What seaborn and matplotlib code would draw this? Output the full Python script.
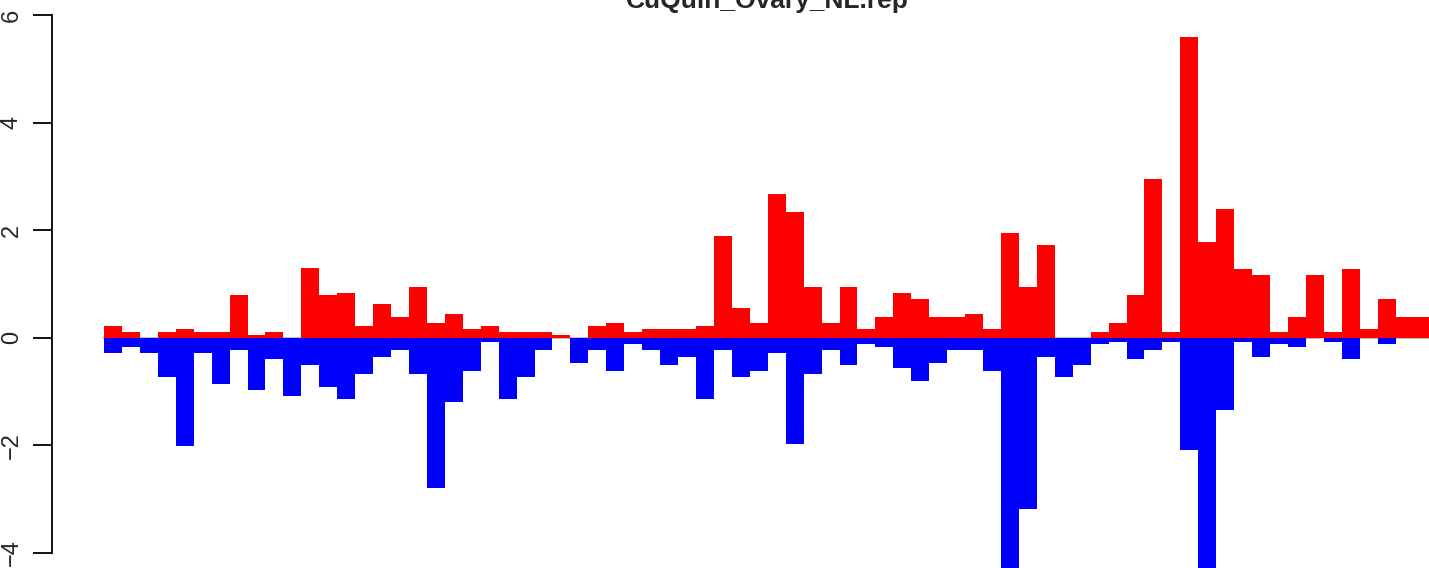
import numpy as np
import pandas as pd
import matplotlib
matplotlib.use("Agg")
import matplotlib.pyplot as plt
import seaborn as sns

# values, one bar per position
up_vals = [0.22, 0.11, 0.0, 0.11, 0.17, 0.11, 0.11, 0.79, 0.055, 0.11,
           0.0, 1.29, 0.79, 0.84, 0.22, 0.62, 0.39, 0.95, 0.28, 0.44,
           0.17, 0.22, 0.11, 0.11, 0.11, 0.055, 0.0, 0.22, 0.28, 0.11,
           0.17, 0.17, 0.17, 0.22, 1.90, 0.56, 0.28, 2.68, 2.34, 0.95,
           0.28, 0.95, 0.17, 0.39, 0.84, 0.73, 0.39, 0.39, 0.45, 0.17,
           1.95, 0.95, 1.73, 0.0, 0.0, 0.11, 0.28, 0.79, 2.95, 0.11,
           5.60, 1.79, 2.40, 1.28, 1.17, 0.11, 0.39, 1.17, 0.11, 1.28,
           0.17, 0.73, 0.39, 0.39]
down_vals = [-0.29, -0.18, -0.29, -0.73, -2.02, -0.29, -0.85, -0.23, -0.97, -0.40,
             -1.08, -0.51, -0.91, -1.13, -0.67, -0.35, -0.23, -0.67, -2.80, -1.19,
             -0.61, -0.074, -1.13, -0.73, -0.23, 0.0, -0.46, -0.23, -0.61, -0.12,
             -0.23, -0.51, -0.35, -1.13, -0.23, -0.73, -0.61, -0.29, -1.97, -0.67,
             -0.23, -0.51, -0.12, -0.18, -0.57, -0.80, -0.46, -0.23, -0.23, -0.61,
             -4.30, -3.19, -0.35, -0.73, -0.51, -0.12, -0.074, -0.40, -0.23, -0.074,
             -2.08, -4.30, -1.35, -0.074, -0.35, -0.12, -0.18, 0.0, -0.074, -0.40,
             0.0, -0.12, 0.0, 0.0]
y_ticks = [-4, -2, 0, 2, 4, 6]
title = "CuQuin_Ovary_NL.rep"

sns.set_style("white")
plt.rcParams['font.family'] = ['Liberation Sans', 'DejaVu Sans']

df = pd.DataFrame({"pos": np.arange(len(up_vals)), "up": up_vals, "down": down_vals})

W, H = 1429, 568
fig = plt.figure(figsize=(W / 100, H / 100), dpi=100)
ax = fig.add_axes([52 / W, 0, (W - 52) / W, 1])

ax.hlines(0, -0.55, len(up_vals), color="#BEBEBE", lw=1.5, zorder=0)
sns.barplot(data=df, x="pos", y="down", color="blue", width=1, saturation=1,
            linewidth=0, ax=ax, zorder=1)
sns.barplot(data=df, x="pos", y="up", color="red", width=1, saturation=1,
            linewidth=0, ax=ax, zorder=2)

ax.set_xlim(-3.40, 73.36)
ax.set_ylim(-4.28, 6.28)
ax.set_xlabel("")
ax.set_ylabel("")
ax.set_xticks([])
ax.set_yticks(y_ticks)
ax.set_yticklabels([str(t).replace("-", "\u2212") for t in y_ticks],
                   rotation=90, va="center", fontsize=17)
ax.tick_params(axis="y", left=True, length=14, width=1.3, pad=7, color="black")
for s in ["top", "right", "bottom"]:
    ax.spines[s].set_visible(False)
ax.spines["left"].set_bounds(-4, 6)
ax.spines["left"].set_linewidth(1.3)
ax.spines["left"].set_color("black")

fig.text(767 / W, 1 - 8 / H, title, ha="center", va="baseline",
         fontsize=19, fontweight="bold")

fig.savefig("out.png", dpi=100)
